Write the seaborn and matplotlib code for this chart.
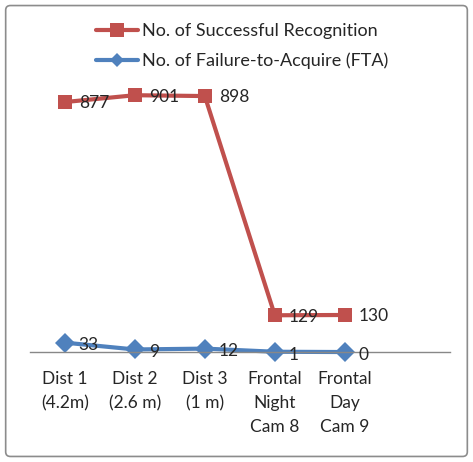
import pandas as pd
import seaborn as sns
import matplotlib.pyplot as plt
from matplotlib.patches import FancyBboxPatch
from matplotlib.lines import Line2D

categories = ["Dist 1\n(4.2m)", "Dist 2\n(2.6 m)", "Dist 3\n(1 m)",
              "Frontal\nNight\nCam 8", "Frontal\nDay\nCam 9"]
success = [877, 901, 898, 129, 130]
fta = [33, 9, 12, 1, 0]
series_names = ["No. of Successful Recognition", "No. of Failure-to-Acquire (FTA)"]

df = pd.DataFrame({
    "cat": categories * 2,
    "value": success + fta,
    "series": [series_names[0]] * len(success) + [series_names[1]] * len(fta),
})

sns.set_style("white")
plt.rcParams["font.family"] = ["Lato", "DejaVu Sans"]

fig = plt.figure(figsize=(4.73, 4.62), dpi=100)
ax = fig.add_axes([0.063, 0.238, 0.888, 0.617])

palette = {series_names[0]: "#C0504D", series_names[1]: "#4F81BD"}
sns.lineplot(data=df, x="cat", y="value", hue="series", style="series",
             markers={series_names[0]: "s", series_names[1]: "D"}, dashes=False,
             palette=palette, linewidth=3, markersize=10, markeredgewidth=0,
             ax=ax, legend=False, sort=False)
for ln in ax.lines:
    ln.set_clip_on(False)

for i, v in enumerate(success):
    ax.annotate(str(v), (i, v), xytext=(10, -1), textcoords="offset points",
                ha="left", va="center", fontsize=12.5)
for i, v in enumerate(fta):
    ax.annotate(str(v), (i, v), xytext=(10, -2), textcoords="offset points",
                ha="left", va="center", fontsize=12.5)

ax.set_xlim(-0.5, 5.5)
ax.set_ylim(0, 1000)
ax.set_xlabel("")
ax.set_ylabel("")
ax.set_yticks([])
ax.set_xticks(range(len(categories)))
ax.set_xticklabels(categories, fontsize=12.5, linespacing=1.6)
ax.tick_params(axis="x", length=0, pad=14)
for s in ["top", "right", "left"]:
    ax.spines[s].set_visible(False)
ax.spines["bottom"].set_color("#888888")
ax.spines["bottom"].set_linewidth(1)
ax.set_zorder(2)
ax.patch.set_alpha(0)

handles = [Line2D([], [], color="#C0504D", marker="s", lw=3, markersize=10, markeredgewidth=0),
           Line2D([], [], color="#4F81BD", marker="D", lw=3, markersize=7, markeredgewidth=0)]
fig.legend(handles, series_names, loc="center", bbox_to_anchor=(0.512, 0.9),
           frameon=False, fontsize=13, handlelength=2.3, handletextpad=0.2,
           labelspacing=0.75)

border = FancyBboxPatch((0.012, 0.012), 0.976, 0.976, boxstyle="round,pad=0,rounding_size=0.01",
                        transform=fig.transFigure, facecolor="none", edgecolor="#8c8c8c",
                        linewidth=1.2)
fig.patches.append(border)

fig.savefig("out.png", dpi=100)
